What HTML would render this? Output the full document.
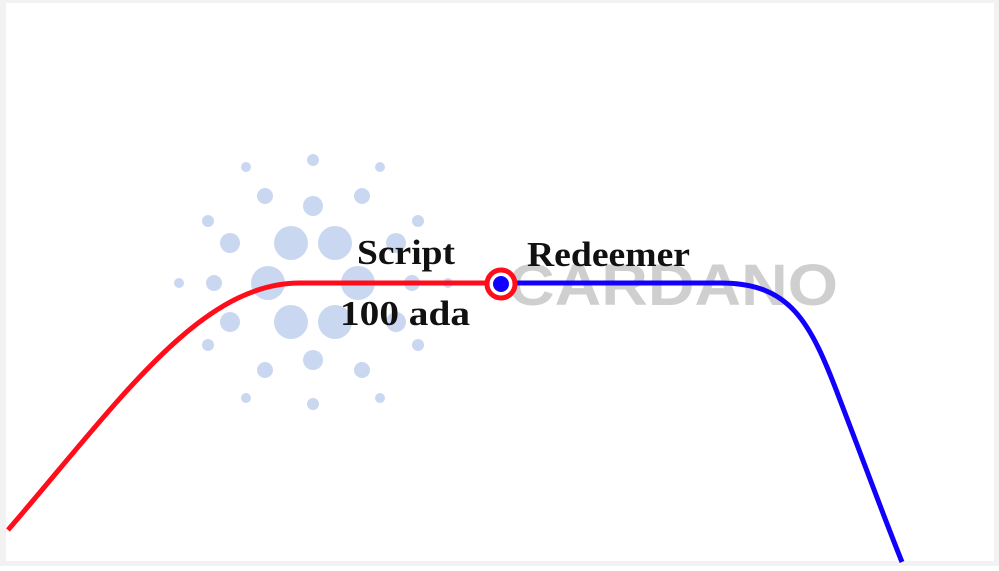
<!DOCTYPE html>
<html><head><style>
html,body{margin:0;padding:0;background:#fff;}
body{width:999px;height:566px;overflow:hidden;}
</style></head><body>
<svg width="999" height="566" viewBox="0 0 999 566" xmlns="http://www.w3.org/2000/svg">
<rect x="0" y="0" width="999" height="566" fill="#f2f2f2"/>
<rect x="6" y="3" width="988" height="558" fill="#fff"/>
<g fill="#c9d8f0">
<circle cx="246" cy="167" r="5"/><circle cx="313" cy="160" r="6"/><circle cx="380" cy="167" r="5"/>
<circle cx="208" cy="221" r="6"/><circle cx="418" cy="221" r="6"/>
<circle cx="179" cy="283" r="5"/><circle cx="448" cy="283" r="5"/>
<circle cx="208" cy="345" r="6"/><circle cx="418" cy="345" r="6"/>
<circle cx="246" cy="398" r="5"/><circle cx="313" cy="404" r="6"/><circle cx="380" cy="398" r="5"/>
<circle cx="265" cy="196" r="8"/><circle cx="313" cy="206" r="10"/><circle cx="362" cy="196" r="8"/>
<circle cx="230" cy="243" r="10"/><circle cx="396" cy="243" r="10"/>
<circle cx="214" cy="283" r="8"/><circle cx="412" cy="283" r="8"/>
<circle cx="230" cy="322" r="10"/><circle cx="396" cy="322" r="10"/>
<circle cx="265" cy="370" r="8"/><circle cx="313" cy="360" r="10"/><circle cx="362" cy="370" r="8"/>
<circle cx="291" cy="243" r="17"/><circle cx="335" cy="243" r="17"/>
<circle cx="268" cy="283" r="17"/><circle cx="358" cy="283" r="17"/>
<circle cx="291" cy="322" r="17"/><circle cx="335" cy="322" r="17"/>
</g>
<text x="508" y="305" font-family="Liberation Sans, sans-serif" font-weight="bold" font-size="58" fill="#cfcfcf" textLength="330" lengthAdjust="spacingAndGlyphs">CARDANO</text>
<path d="M8,530 C120,400 200,283 300,283 L500,283" fill="none" stroke="#ff0d1a" stroke-width="5"/>
<path d="M500,283 L720,283 C790,283 810,320 840,400 C865,465 885,520 902,562" fill="none" stroke="#1200ff" stroke-width="5"/>
<circle cx="501" cy="284" r="14" fill="#fff" stroke="#ff0d1a" stroke-width="5"/>
<circle cx="501" cy="284" r="8" fill="#1200ff"/>
<g font-family="Liberation Serif, serif" font-size="35" font-weight="bold" fill="#111">
<text x="357" y="264" textLength="98" lengthAdjust="spacingAndGlyphs">Script</text>
<text x="340" y="325" textLength="130" lengthAdjust="spacingAndGlyphs">100 ada</text>
<text x="527" y="266" textLength="163" lengthAdjust="spacingAndGlyphs">Redeemer</text>
</g>
</svg>
</body></html>
